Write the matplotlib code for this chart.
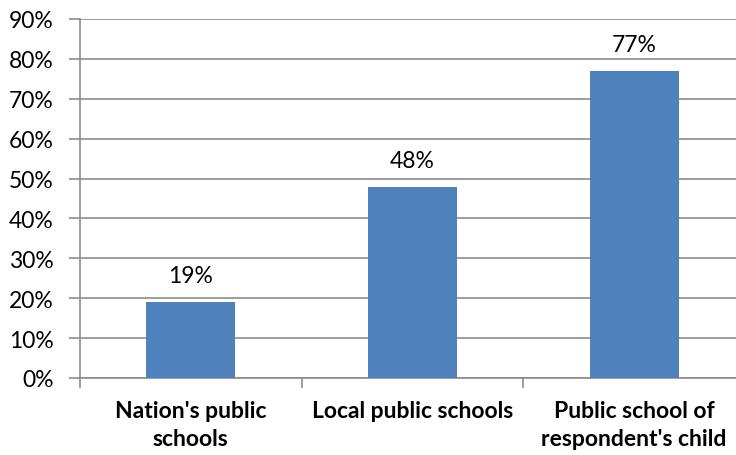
import matplotlib.pyplot as plt
import numpy as np

categories = ["Nation's public\nschools", "Local public schools", "Public school of\nrespondent's child"]
values = [19, 48, 77]
y_ticks = [0, 10, 20, 30, 40, 50, 60, 70, 80, 90]

plt.rcParams['font.family'] = ['Lato', 'DejaVu Sans']

fig = plt.figure(figsize=(7.36, 4.56), dpi=100)
ax = fig.add_axes([80 / 736, 1 - 379 / 456, 665 / 736, 359 / 456])

x = np.arange(len(categories))
ax.bar(x, values, width=0.4, color="#4F81BD", zorder=3)

for xi, v in zip(x, values):
    ax.text(xi, v + 4, f"{v}%", ha="center", va="bottom", fontsize=16.5, zorder=4)

ax.set_xlim(-0.5, 2.5)
ax.set_ylim(0, 90)
ax.set_yticks(y_ticks)
ax.set_yticklabels([f"{t}%" for t in y_ticks], fontsize=16.5)
ax.yaxis.grid(True, color="#8c8c8c", linewidth=1.2, zorder=0)

ax.set_xticks(x)
ax.set_xticklabels(categories, fontsize=16.5, fontweight="bold", linespacing=1.4)
ax.set_xticks([-0.5, 0.5, 1.5], minor=True)
ax.tick_params(axis="x", which="major", length=0, pad=16)
ax.tick_params(axis="x", which="minor", length=7, color="#8c8c8c", width=1.2)
ax.tick_params(axis="y", length=8, color="#8c8c8c", width=1.2, pad=11)

for s in ["top", "right"]:
    ax.spines[s].set_visible(False)
for s in ["left", "bottom"]:
    ax.spines[s].set_color("#8c8c8c")
    ax.spines[s].set_linewidth(1.2)

fig.savefig("out.png", dpi=100)
